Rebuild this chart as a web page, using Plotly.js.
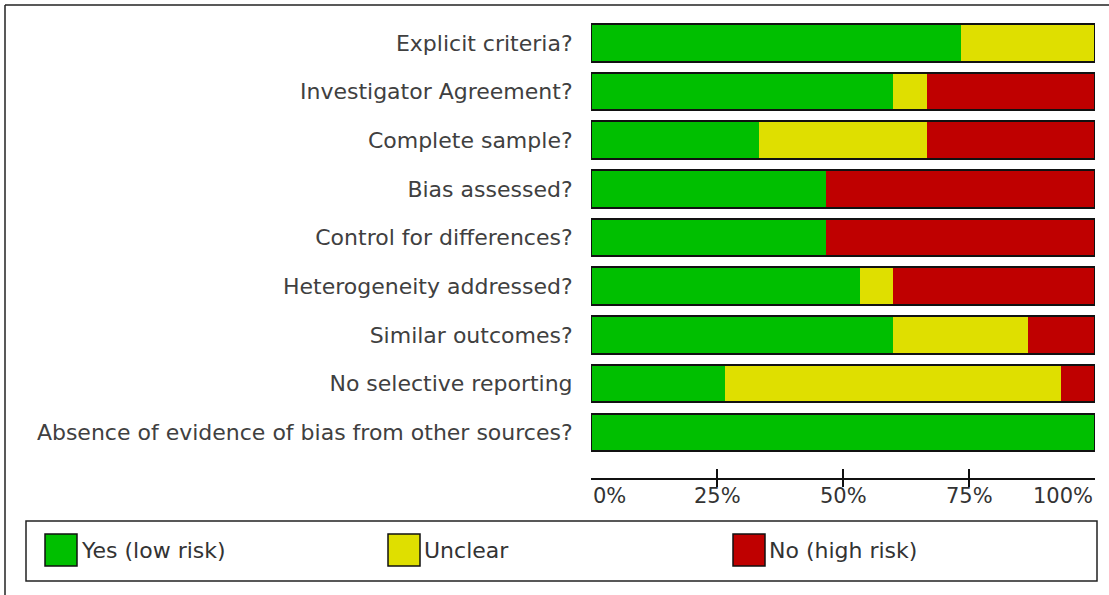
<!DOCTYPE html>
<html>
<head>
<meta charset="utf-8">
<script src="https://cdn.plot.ly/plotly-3.0.1.min.js"></script>
<style>html,body{margin:0;padding:0;background:#fff;}#chart{width:1109px;height:595px;}</style>
</head>
<body>
<div id="chart"></div>
<script>
const categories = [
  "Explicit criteria?",
  "Investigator Agreement?",
  "Complete sample?",
  "Bias assessed?",
  "Control for differences?",
  "Heterogeneity addressed?",
  "Similar outcomes?",
  "No selective reporting",
  "Absence of evidence of bias from other sources?"
];
const yesPct     = [73.33, 60.00, 33.33, 46.67, 46.67, 53.33, 60.00, 26.67, 100];
const unclearPct = [26.67,  6.67, 33.33,  0.00,  0.00,  6.67, 26.67, 66.67, 0];
const noPct      = [ 0.00, 33.33, 33.34, 53.33, 53.33, 40.00, 13.33,  6.66, 0];
const seriesNames = ["Yes (low risk)", "Unclear", "No (high risk)"];
const seriesColors = ["#00BF00", "#DFDF00", "#BF0000"];
const tickVals = [0, 25, 50, 75, 100];
const tickLabels = ["0%", "25%", "50%", "75%", "100%"];

const totals = categories.map((c, i) => yesPct[i] + unclearPct[i] + noPct[i]);

// layout geometry (pixels)
const W = 1109, H = 595;
const M = {l: 591, r: 14, t: 19, b: 117};
const pw = W - M.l - M.r, ph = H - M.t - M.b;
const px2x = p => (p - M.l) / pw;
const py2y = p => (H - M.b - p) / ph;

const seriesVals = [yesPct, unclearPct, noPct];
const traces = seriesVals.map((vals, k) => ({
  type: "bar", orientation: "h",
  name: seriesNames[k], x: vals, y: categories,
  width: 0.77,
  marker: {color: seriesColors[k], line: {width: 0}},
  hoverinfo: "x+y+name", showlegend: false
}));
traces.push({
  type: "bar", orientation: "h", x: totals, y: categories,
  xaxis: "x2", yaxis: "y", width: 0.77,
  marker: {color: "rgba(0,0,0,0)", line: {color: "#111", width: 2}},
  hoverinfo: "skip", showlegend: false
});

const font = "DejaVu Sans, Verdana, sans-serif";
const annotations = tickVals.map((v, i) => ({
  xref: "x", yref: "paper", x: v, y: py2y(496),
  text: tickLabels[i], showarrow: false,
  xanchor: i === 0 ? "left" : (i === tickVals.length - 1 ? "right" : "center"),
  yanchor: "middle",
  font: {family: font, size: 21, color: "#333"}
}));

const shapes = [
  // outer frame (left and top)
  {type: "line", xref: "paper", yref: "paper", x0: px2x(5), x1: px2x(5), y0: py2y(5), y1: py2y(600), line: {color: "#222", width: 1.5}},
  {type: "line", xref: "paper", yref: "paper", x0: px2x(5), x1: px2x(1115), y0: py2y(5), y1: py2y(5), line: {color: "#222", width: 1.5}},
  // legend box
  {type: "rect", xref: "paper", yref: "paper", x0: px2x(26), x1: px2x(1097), y0: py2y(581), y1: py2y(521), line: {color: "#222", width: 1.5}, fillcolor: "rgba(0,0,0,0)"}
];
const legendX = [45, 388, 733];
seriesNames.forEach((n, k) => {
  shapes.push({type: "rect", xref: "paper", yref: "paper",
    x0: px2x(legendX[k]), x1: px2x(legendX[k] + 32), y0: py2y(566), y1: py2y(534),
    fillcolor: seriesColors[k], line: {color: "#111", width: 1.5}});
  annotations.push({xref: "paper", yref: "paper", x: px2x(legendX[k] + 34), y: py2y(550),
    text: n, showarrow: false, xanchor: "left", yanchor: "middle",
    font: {family: font, size: 22, color: "#333"}});
});

const layout = {
  width: W, height: H,
  margin: M,
  paper_bgcolor: "#fff", plot_bgcolor: "#fff",
  barmode: "stack",
  showlegend: false,
  xaxis: {range: [0, 100], showgrid: false, zeroline: false,
    showline: true, linecolor: "#111", linewidth: 1.5,
    ticks: "inside", ticklen: 9, tickwidth: 1.5, tickcolor: "#111",
    tickvals: tickVals, showticklabels: false, fixedrange: true},
  xaxis2: {range: [0, 100], overlaying: "x", anchor: "y", side: "bottom",
    showgrid: false, zeroline: false, showline: false,
    ticks: "outside", ticklen: 8, tickwidth: 1.5, tickcolor: "#111",
    tickvals: tickVals.slice(1, -1), showticklabels: false, fixedrange: true},
  yaxis: {type: "category", range: [8.94, -0.49], showgrid: false, zeroline: false,
    showline: false, ticks: "outside", ticklen: 13, tickcolor: "rgba(0,0,0,0)",
    tickfont: {family: font, size: 22, color: "#404040"}, fixedrange: true},
  shapes: shapes,
  annotations: annotations
};

Plotly.newPlot("chart", traces, layout, {displayModeBar: false, staticPlot: true});
</script>
</body>
</html>
